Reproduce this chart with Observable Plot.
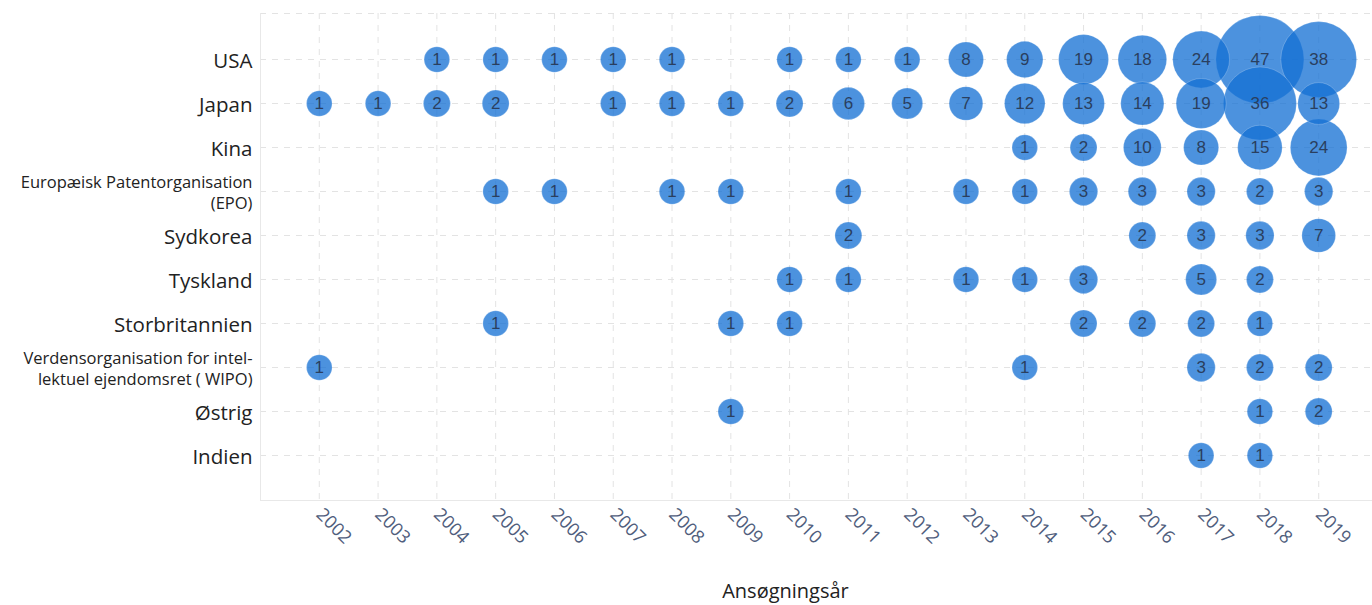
<!DOCTYPE html>
<html>
<head>
<meta charset="utf-8">
<script src="https://cdn.jsdelivr.net/npm/d3@7"></script>
<script src="https://cdn.jsdelivr.net/npm/@observablehq/plot@0.6"></script>
<style>
  html, body { margin: 0; padding: 0; background: #fff; }
  #chart svg { display: block; }
</style>
</head>
<body>
<div id="chart"></div>
<script>
// ---- Data ----
const years = [2002, 2003, 2004, 2005, 2006, 2007, 2008, 2009, 2010, 2011, 2012, 2013, 2014, 2015, 2016, 2017, 2018, 2019];

const countries = [
  "USA",
  "Japan",
  "Kina",
  "Europæisk Patentorganisation\n(EPO)",
  "Sydkorea",
  "Tyskland",
  "Storbritannien",
  "Verdensorganisation for intel-\nlektuel ejendomsret ( WIPO)",
  "Østrig",
  "Indien"
];

// values per country, aligned with `years` (null = no applications)
const usa            = [null, null, 1, 1, 1, 1, 1, null, 1, 1, 1, 8, 9, 19, 18, 24, 47, 38];
const japan          = [1, 1, 2, 2, null, 1, 1, 1, 2, 6, 5, 7, 12, 13, 14, 19, 36, 13];
const kina           = [null, null, null, null, null, null, null, null, null, null, null, null, 1, 2, 10, 8, 15, 24];
const epo            = [null, null, null, 1, 1, null, 1, 1, null, 1, null, 1, 1, 3, 3, 3, 2, 3];
const sydkorea       = [null, null, null, null, null, null, null, null, null, 2, null, null, null, null, 2, 3, 3, 7];
const tyskland       = [null, null, null, null, null, null, null, null, 1, 1, null, 1, 1, 3, null, 5, 2, null];
const storbritannien = [null, null, null, 1, null, null, null, 1, 1, null, null, null, null, 2, 2, 2, 1, null];
const wipo           = [1, null, null, null, null, null, null, null, null, null, null, null, 1, null, null, 3, 2, 2];
const ostrig         = [null, null, null, null, null, null, null, 1, null, null, null, null, null, null, null, null, 1, 2];
const indien         = [null, null, null, null, null, null, null, null, null, null, null, null, null, null, null, 1, 1, null];

const xLabel = "Ansøgningsår";

// ---- Build table ----
const series = [usa, japan, kina, epo, sydkorea, tyskland, storbritannien, wipo, ostrig, indien];
const data = [];
series.forEach((vals, ci) => {
  vals.forEach((v, yi) => {
    if (v != null) data.push({country: countries[ci], year: years[yi], value: v});
  });
});

const isSmall = c => c.includes("\n");

// frame lines: left/bottom solid, top dashed
function frameLines(index, scales, values, dimensions) {
  const {width, height, marginLeft, marginTop, marginBottom} = dimensions;
  const g = d3.create("svg:g");
  g.append("line")
    .attr("x1", marginLeft).attr("x2", width)
    .attr("y1", marginTop + 0.5).attr("y2", marginTop + 0.5)
    .attr("stroke", "#e3e3e3").attr("stroke-dasharray", "6,6");
  g.append("line")
    .attr("x1", marginLeft + 0.5).attr("x2", marginLeft + 0.5)
    .attr("y1", marginTop).attr("y2", height - marginBottom)
    .attr("stroke", "#e8e8e8");
  g.append("line")
    .attr("x1", marginLeft).attr("x2", width)
    .attr("y1", height - marginBottom + 0.5).attr("y2", height - marginBottom + 0.5)
    .attr("stroke", "#e8e8e8");
  return g.node();
}

const chart = Plot.plot({
  width: 1372,
  height: 605,
  marginLeft: 260,
  marginRight: 0,
  marginTop: 13,
  marginBottom: 105,
  style: {fontFamily: "'Open Sans', sans-serif", fontSize: "18px", color: "#4f5d7c", background: "#fff"},
  x: {
    type: "linear",
    domain: [2001, 2020],
    range: [260, 1377],
    ticks: years,
    tickFormat: d => String(d),
    tickRotate: 45,
    tickSize: 0,
    tickPadding: 11,
    label: null
  },
  y: {
    type: "point",
    domain: countries,
    padding: 1,
    axis: null
  },
  r: {type: "linear", domain: [1, 47], range: [12.8, 44]},
  marks: [
    Plot.ruleX(years, {x: d => d, stroke: "#e3e3e3", strokeDasharray: "6,6"}),
    Plot.ruleY(countries, {y: d => d, stroke: "#e3e3e3", strokeDasharray: "6,6"}),
    frameLines,
    Plot.dot(data, {
      x: "year", y: "country", r: "value",
      fill: "rgb(20,112,212)", fillOpacity: 0.76, stroke: "white", strokeOpacity: 0.35, strokeWidth: 0.6
    }),
    Plot.text(data, {
      x: "year", y: "country", text: d => String(d.value),
      fill: "#2a3f5f", fontSize: 17, fontFamily: "'Liberation Sans', Arial, sans-serif"
    }),
    Plot.text(countries, {
      y: d => d, text: d => d, frameAnchor: "left", textAnchor: "end", dx: -8,
      fontSize: d => isSmall(d) ? 16.5 : 20.5, lineHeight: 1.3, fill: "#222"
    }),
    Plot.text([xLabel], {
      text: d => d, frameAnchor: "bottom", dx: -31, dy: 97, fontSize: 20, fill: "#222"
    })
  ]
});

document.getElementById("chart").appendChild(chart);
</script>
</body>
</html>
